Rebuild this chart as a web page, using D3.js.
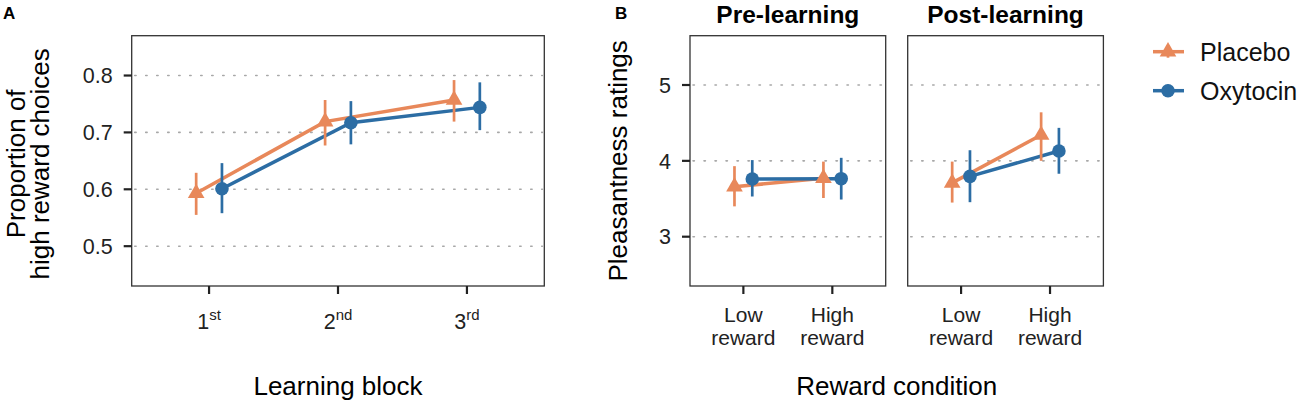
<!DOCTYPE html>
<html>
<head>
<meta charset="utf-8">
<script src="https://cdn.jsdelivr.net/npm/d3@7"></script>
<style>
  body { margin: 0; background: #fff; }
  svg { display: block; font-family: "Liberation Sans", Arial, Helvetica, sans-serif; }
  .grid line { stroke: #a8a8a8; stroke-width: 1.6; stroke-dasharray: 1.4 9.6; stroke-linecap: round; }
  .box { fill: none; stroke: #333; stroke-width: 1.3; }
  .tick-mark { stroke: #222; stroke-width: 2.2; }
  .tick-lbl { fill: #222; }
</style>
</head>
<body>
<div id="chart"></div>
<script>
// panel A: learning blocks
const blockNum = ["1", "2", "3"];
const blockSup = ["st", "nd", "rd"];
const placeboA = [0.593, 0.719, 0.757];
const placeboALo = [0.555, 0.677, 0.719];
const placeboAHi = [0.629, 0.757, 0.792];
const oxytocinA = [0.601, 0.717, 0.744];
const oxytocinALo = [0.558, 0.679, 0.704];
const oxytocinAHi = [0.646, 0.755, 0.788];
const yTicksA = [0.5, 0.6, 0.7, 0.8];

// panel B: pleasantness ratings, [low, high] per phase
const phases = ["Pre-learning", "Post-learning"];
const conditions = ["Low reward", "High reward"];
const condLines = [["Low", "reward"], ["High", "reward"]];
const placeboB = [[3.66, 3.77], [3.71, 4.34]];
const placeboBLo = [[3.40, 3.51], [3.45, 4.00]];
const placeboBHi = [[3.93, 3.99], [3.99, 4.64]];
const oxytocinB = [[3.76, 3.765], [3.795, 4.13]];
const oxytocinBLo = [[3.53, 3.49], [3.455, 3.83]];
const oxytocinBHi = [[4.01, 4.04], [4.14, 4.435]];
const yTicksB = [3, 4, 5];

const groups = ["Placebo", "Oxytocin"];
const colors = { Placebo: "#E8885A", Oxytocin: "#2C6DA4" };
const symbols = { Placebo: d3.symbolTriangle, Oxytocin: d3.symbolCircle };
const symSize = { Placebo: 120, Oxytocin: 145 };

const W = 1300, H = 401;
const plotTop = 35.7, plotBottom = 286;

const svg = d3.select("#chart").append("svg").attr("width", W).attr("height", H);

function expand(lim, f) {
  const d = (lim[1] - lim[0]) * f;
  return [lim[0] - d, lim[1] + d];
}

// one panel box with its series
function drawPanel(g, x0, x1, xScale, yScale, yTicks, series) {
  g.append("g").attr("class", "grid")
    .selectAll("line").data(yTicks).enter().append("line")
    .attr("x1", x0 + 3).attr("x2", x1 - 2)
    .attr("y1", d => yScale(d)).attr("y2", d => yScale(d));

  const step = xScale.step();
  const dodge = { Placebo: -0.1 * step, Oxytocin: 0.1 * step };

  const line = d3.line().x(d => d.x).y(d => d.y);
  series.forEach(s => {
    const pts = s.mean.map((v, i) => ({ x: xScale(s.cats[i]) + dodge[s.name], y: yScale(v) }));
    g.append("path").attr("d", line(pts)).attr("fill", "none")
      .attr("stroke", colors[s.name]).attr("stroke-width", 3.5);
  });
  series.forEach(s => {
    s.mean.forEach((v, i) => {
      const cx = xScale(s.cats[i]) + dodge[s.name];
      g.append("line").attr("x1", cx).attr("x2", cx)
        .attr("y1", yScale(s.lo[i])).attr("y2", yScale(s.hi[i]))
        .attr("stroke", colors[s.name]).attr("stroke-width", 2.7);
      g.append("path").attr("d", d3.symbol().type(symbols[s.name]).size(symSize[s.name])())
        .attr("transform", `translate(${cx},${yScale(v)})`)
        .attr("fill", colors[s.name]);
    });
  });

  g.append("rect").attr("class", "box")
    .attr("x", x0).attr("y", plotTop).attr("width", x1 - x0).attr("height", plotBottom - plotTop);

  g.append("g").selectAll("line").data(xScale.domain()).enter().append("line")
    .attr("class", "tick-mark")
    .attr("x1", d => xScale(d)).attr("x2", d => xScale(d))
    .attr("y1", plotBottom).attr("y2", plotBottom + 8);
}

function drawYAxis(g, x0, yScale, ticks, fmt) {
  g.append("g").selectAll("line").data(ticks).enter().append("line")
    .attr("class", "tick-mark")
    .attr("x1", x0 - 8).attr("x2", x0)
    .attr("y1", d => yScale(d)).attr("y2", d => yScale(d));
  g.append("g").selectAll("text").data(ticks).enter().append("text")
    .attr("class", "tick-lbl")
    .attr("x", x0 - 19).attr("y", d => yScale(d)).attr("dy", "0.36em")
    .attr("text-anchor", "end").attr("font-size", 21.5)
    .text(fmt);
}

// ---------- Panel A ----------
const axA = [131.7, 544.3];
const xA = d3.scalePoint().domain(blockNum).range(axA).padding(0.6);
const yA = d3.scaleLinear().domain(expand([0.45, 0.85], 0.05)).range([plotBottom, plotTop]);
const gA = svg.append("g");

drawPanel(gA, axA[0], axA[1], xA, yA, yTicksA, [
  { name: "Placebo", cats: blockNum, mean: placeboA, lo: placeboALo, hi: placeboAHi },
  { name: "Oxytocin", cats: blockNum, mean: oxytocinA, lo: oxytocinALo, hi: oxytocinAHi }
]);
drawYAxis(gA, axA[0], yA, yTicksA, d3.format(".1f"));

const lblA = gA.append("g").selectAll("text").data(blockNum).enter().append("text")
  .attr("class", "tick-lbl")
  .attr("x", d => xA(d)).attr("y", 329)
  .attr("text-anchor", "middle").attr("font-size", 21.5);
lblA.append("tspan").text(d => d);
lblA.append("tspan").attr("font-size", 15).attr("dy", -9).text((d, i) => blockSup[i]);

gA.append("text").attr("x", 3).attr("y", 19)
  .attr("font-size", 17).attr("font-weight", "bold").text("A");

const midY = (plotTop + plotBottom) / 2;
gA.append("text").attr("text-anchor", "middle").attr("font-size", 26)
  .attr("transform", `translate(24.5,${midY + 3}) rotate(-90)`)
  .text("Proportion of");
gA.append("text").attr("text-anchor", "middle").attr("font-size", 26)
  .attr("transform", `translate(49,${midY + 3}) rotate(-90)`)
  .text("high reward choices");

gA.append("text").attr("x", (axA[0] + axA[1]) / 2).attr("y", 395)
  .attr("text-anchor", "middle").attr("font-size", 26)
  .text("Learning block");

// ---------- Panel B ----------
const facetX = [[690, 885.7], [907.7, 1103.4]];
const yB = d3.scaleLinear().domain(expand([2.5, 5.5], 0.05)).range([plotBottom, plotTop]);
const gB = svg.append("g");

phases.forEach((ph, p) => {
  const [x0, x1] = facetX[p];
  const xB = d3.scalePoint().domain(conditions).range([x0, x1]).padding(0.6);
  drawPanel(gB, x0, x1, xB, yB, yTicksB, [
    { name: "Placebo", cats: conditions, mean: placeboB[p], lo: placeboBLo[p], hi: placeboBHi[p] },
    { name: "Oxytocin", cats: conditions, mean: oxytocinB[p], lo: oxytocinBLo[p], hi: oxytocinBHi[p] }
  ]);

  const lbl = gB.append("g").selectAll("text").data(conditions).enter().append("text")
    .attr("class", "tick-lbl")
    .attr("x", d => xB(d)).attr("y", 322)
    .attr("text-anchor", "middle").attr("font-size", 21);
  lbl.append("tspan").attr("x", d => xB(d)).text((d, i) => condLines[i][0]);
  lbl.append("tspan").attr("x", d => xB(d)).attr("dy", 23).text((d, i) => condLines[i][1]);

  gB.append("text").attr("x", (x0 + x1) / 2).attr("y", 23)
    .attr("text-anchor", "middle").attr("font-size", 24.5).attr("font-weight", "bold")
    .text(ph);
});
drawYAxis(gB, facetX[0][0], yB, yTicksB, d3.format("d"));

gB.append("text").attr("x", 615).attr("y", 19)
  .attr("font-size", 17).attr("font-weight", "bold").text("B");

gB.append("text").attr("text-anchor", "middle").attr("font-size", 26)
  .attr("transform", `translate(627,${midY}) rotate(-90)`)
  .text("Pleasantness ratings");

gB.append("text").attr("x", (facetX[0][0] + facetX[1][1]) / 2).attr("y", 395)
  .attr("text-anchor", "middle").attr("font-size", 26)
  .text("Reward condition");

// ---------- Legend ----------
const legY = [51.7, 90.7];
const leg = svg.append("g").selectAll("g").data(groups).enter().append("g")
  .attr("transform", (d, i) => `translate(1168,${legY[i]})`);
leg.append("line").attr("x1", -15).attr("x2", 16)
  .attr("stroke", d => colors[d]).attr("stroke-width", 3.5);
leg.append("line").attr("y1", -6).attr("y2", 6)
  .attr("stroke", d => colors[d]).attr("stroke-width", 2.7);
leg.append("path").attr("d", d => d3.symbol().type(symbols[d]).size(symSize[d])())
  .attr("fill", d => colors[d]);
leg.append("text").attr("x", 32).attr("dy", "0.36em")
  .attr("font-size", 25).attr("fill", "#111").text(d => d);
</script>
</body>
</html>
